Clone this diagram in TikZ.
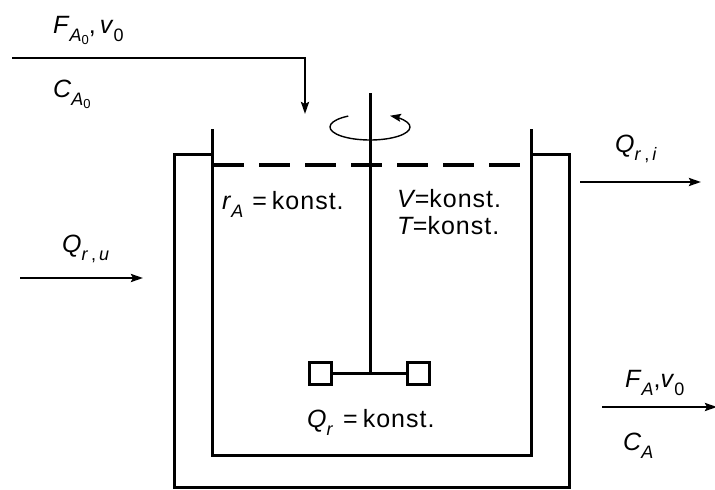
\documentclass[tikz,border=0pt]{standalone}
\usepackage{fontspec}
\setmainfont{Liberation Sans}
\usetikzlibrary{arrows.meta}
\newcommand\sbs[1]{\raisebox{-0.32em}{\fontsize{18}{18}\selectfont #1}}
\newcommand\ssbs[1]{\raisebox{-0.2em}{\fontsize{13}{13}\selectfont #1}}
\newcommand\kon{{\addfontfeature{LetterSpace=4}konst.}}
\begin{document}
\begin{tikzpicture}[x=1pt,y=-1pt,
  wall/.style={line width=3pt},
  flow/.style={line width=2.4pt,-{Stealth[length=12pt,width=8pt,inset=2pt]}},
  lbl/.style={anchor=base west,inner sep=0pt,font=\fontsize{25}{29}\selectfont}]
\useasboundingbox (0,0) rectangle (715,490);
% vessel
\draw[wall] (212,129) -- (212,455) -- (531,455) -- (531,129);
% jacket
\draw[wall] (212,154) -- (174,154) -- (174,487) -- (569,487) -- (569,154) -- (531,154);
% liquid level
\draw[line width=4pt,dash pattern=on 31pt off 15pt] (213,165) -- (530,165);
% shaft and impeller
\coordinate (shafttop) at (370,93);
\coordinate (hub) at (370,373);
\node[draw,line width=2.6pt,minimum size=22pt,inner sep=0pt] (bl) at (320.5,373.5) {};
\node[draw,line width=2.6pt,minimum size=22pt,inner sep=0pt] (br) at (418.5,373.5) {};
\draw[line width=3pt] (shafttop) -- (hub);
\draw[line width=2.6pt] (bl.east) -- (br.west);
% rotation
\draw[line width=1.4pt,-{Stealth[length=11pt,width=8pt,inset=2pt]}] (370,127) ++(-123:40 and 13) arc[start angle=-123,end angle=-420,x radius=40,y radius=13];
% feed
\coordinate (feedin) at (12,58);
\coordinate (feedcorner) at (305,58);
\coordinate (feedout) at (305,114);
\draw[line width=2.4pt,-{Stealth[length=12pt,width=8pt,inset=2pt]}] (feedin) -- (feedcorner) -- (feedout);
% heat flows
\coordinate (qua) at (20,278); \coordinate (qub) at (143,278);
\draw[flow] (qua) -- (qub);
\coordinate (qia) at (580,182); \coordinate (qib) at (701,182);
\draw[flow] (qia) -- (qib);
\coordinate (fa) at (602,407); \coordinate (fb) at (717,407);
\draw[flow] (fa) -- (fb);
% labels
\node[lbl] (lfa0) at (53,33) {\textit{F}\sbs{\textit{A}\ssbs{0}},\,\textit{v}\sbs{0}};
\node[lbl] (lca0) at (53,97) {\textit{C}\sbs{\textit{A}\ssbs{0}}};
\node[lbl] (lqri) at (615,152) {\textit{Q}\sbs{\textit{r}\,,\,\textit{i}}};
\node[lbl] (lqru) at (62,252) {\textit{Q}\sbs{\textit{r}\,,\,\textit{u}}};
\node[lbl] (lra) at (222,209) {\textit{r}\sbs{\textit{A}}\hspace{9pt}=\hspace{5pt}\kon};
\node[lbl] (lv) at (397,207) {\textit{V}\hspace{-1pt}=\kon};
\node[lbl] (lt) at (397,234) {\textit{T}\hspace{-1pt}=\kon};
\node[lbl] (lqr) at (307,427) {\textit{Q}\sbs{\textit{r}}\hspace{10pt}=\hspace{5pt}\kon};
\node[lbl] (lfa) at (625,387) {\textit{F}\sbs{\textit{A}},\textit{v}\sbs{0}};
\node[lbl] (lca) at (623,450) {\textit{C}\sbs{\textit{A}}};
\end{tikzpicture}
\end{document}
